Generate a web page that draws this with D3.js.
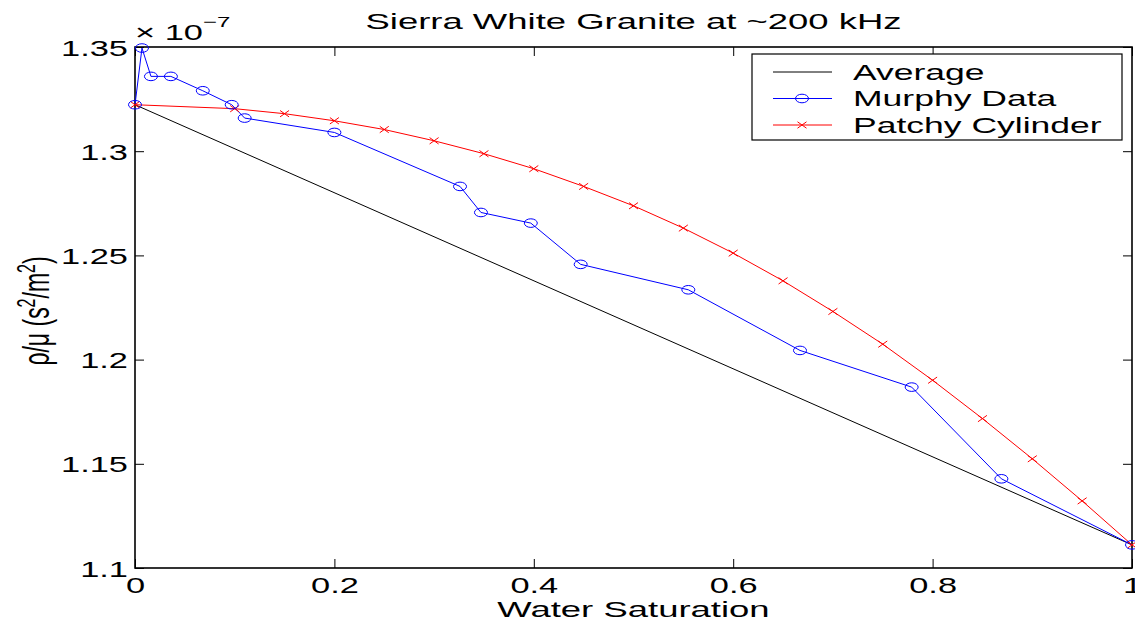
<!DOCTYPE html>
<html>
<head>
<meta charset="utf-8">
<script src="https://cdn.jsdelivr.net/npm/d3@7"></script>
<style>
  body { margin: 0; background: #fff; }
  text { font-family: "Liberation Sans", Arial, Helvetica, sans-serif; fill: #000; }
</style>
</head>
<body>
<script>
// data (y values in units of 1e-7)
var avgX = [0, 1];
var avgY = [1.3223, 1.1111];

var murphyX = [0, 0.007, 0.016, 0.036, 0.068, 0.097, 0.110, 0.200, 0.326, 0.347,
               0.397, 0.447, 0.555, 0.667, 0.779, 0.869, 1.0];
var murphyY = [1.3223, 1.3495, 1.3359, 1.3359, 1.3290, 1.3223, 1.3159, 1.3090, 1.2831, 1.2706,
               1.2655, 1.2457, 1.2335, 1.2044, 1.1868, 1.1428, 1.1111];

var patchyX = [0, 0.10, 0.15, 0.20, 0.25, 0.30, 0.35, 0.40, 0.45, 0.50,
               0.55, 0.60, 0.65, 0.70, 0.75, 0.80, 0.85, 0.90, 0.95, 1.0];
var patchyY = [1.3223, 1.3204, 1.3180, 1.3146, 1.3104, 1.3050, 1.2988, 1.2916, 1.2831, 1.2738,
               1.2631, 1.2511, 1.2378, 1.2231, 1.2074, 1.1901, 1.1717, 1.1524, 1.1322, 1.1111];

var xTicks = [0, 0.2, 0.4, 0.6, 0.8, 1];
var yTicks = [1.1, 1.15, 1.2, 1.25, 1.3, 1.35];
var legendLabels = ["Average", "Murphy Data", "Patchy Cylinder"];

// layout
var W = 1135, H = 624;
var margin = { top: 47, right: 3, bottom: 56, left: 135 };
var stretch = 1.6; // het origineel is horizontaal uitgerekt
var fs = 21.5;

var x = d3.scaleLinear().domain([0, 1]).range([margin.left, W - margin.right]);
var y = d3.scaleLinear().domain([1.1, 1.35]).range([H - margin.bottom, margin.top]);

var svg = d3.select("body").append("svg")
    .attr("width", W)
    .attr("height", H);

// uitgerekte tekst
function stext(g, tx, ty, str, anchor, size) {
    return g.append("text")
        .attr("transform", "translate(" + tx + "," + ty + ") scale(" + stretch + ",1)")
        .attr("text-anchor", anchor || "start")
        .style("font-size", (size || fs) + "px")
        .text(str);
}

// assen, ticks naar binnen
var fmt = function (d) { return String(+d.toFixed(2)); };

var gx = svg.append("g")
    .attr("transform", "translate(0," + y.range()[0] + ")")
    .call(d3.axisBottom(x).tickValues(xTicks).tickSizeInner(-9).tickSizeOuter(0).tickFormat(fmt));
gx.selectAll("text")
    .attr("y", null).attr("dy", null)
    .attr("transform", "translate(0,25) scale(" + stretch + ",1)")
    .style("font-size", fs + "px");

var gy = svg.append("g")
    .attr("transform", "translate(" + x.range()[0] + ",0)")
    .call(d3.axisLeft(y).tickValues(yTicks).tickSizeInner(-9).tickSizeOuter(0).tickFormat(fmt));
gy.selectAll("text")
    .attr("x", null).attr("dy", null)
    .attr("transform", "translate(-7,8) scale(" + stretch + ",1)")
    .style("font-size", fs + "px");

svg.append("g")
    .attr("transform", "translate(0," + y.range()[1] + ")")
    .call(d3.axisTop(x).tickValues(xTicks).tickSizeInner(-9).tickSizeOuter(0).tickFormat(""));
svg.append("g")
    .attr("transform", "translate(" + x.range()[1] + ",0)")
    .call(d3.axisRight(y).tickValues(yTicks).tickSizeInner(-9).tickSizeOuter(0).tickFormat(""));

svg.selectAll(".domain").remove();
svg.selectAll(".tick line").attr("stroke", "#000").attr("stroke-width", 1);

svg.append("rect")
    .attr("x", x.range()[0])
    .attr("y", y.range()[1])
    .attr("width", x.range()[1] - x.range()[0])
    .attr("height", y.range()[0] - y.range()[1])
    .attr("fill", "none")
    .attr("stroke", "#000")
    .attr("stroke-width", 1.6);

// lijnen
var line = d3.line()
    .x(function (d) { return x(d[0]); })
    .y(function (d) { return y(d[1]); });

var avg = d3.zip(avgX, avgY);
var murphy = d3.zip(murphyX, murphyY);
var patchy = d3.zip(patchyX, patchyY);

svg.append("path").datum(avg)
    .attr("d", line).attr("fill", "none").attr("stroke", "#000").attr("stroke-width", 1);

svg.append("path").datum(patchy)
    .attr("d", line).attr("fill", "none").attr("stroke", "#ff0000").attr("stroke-width", 1);

svg.append("path").datum(murphy)
    .attr("d", line).attr("fill", "none").attr("stroke", "#0000ff").attr("stroke-width", 1);

// markers
function crossPath(cx, cy) {
    var a = 4.5, b = 3.2;
    return "M" + (cx - a) + "," + (cy - b) + "L" + (cx + a) + "," + (cy + b) +
        "M" + (cx - a) + "," + (cy + b) + "L" + (cx + a) + "," + (cy - b);
}

svg.append("g").selectAll("path")
    .data(patchy).enter().append("path")
    .attr("d", function (d) { return crossPath(x(d[0]), y(d[1])); })
    .attr("stroke", "#ff0000").attr("stroke-width", 1).attr("fill", "none");

svg.append("g").selectAll("ellipse")
    .data(murphy).enter().append("ellipse")
    .attr("cx", function (d) { return x(d[0]); })
    .attr("cy", function (d) { return y(d[1]); })
    .attr("rx", 6.5).attr("ry", 4.3)
    .attr("fill", "none").attr("stroke", "#0000ff").attr("stroke-width", 1);

// titel en labels
var midX = (x.range()[0] + x.range()[1]) / 2;
stext(svg, midX, 29, "Sierra White Granite at ~200 kHz", "middle", 22.8);
stext(svg, midX, 617, "Water Saturation", "middle", 22.8);

var mult = svg.append("text")
    .attr("transform", "translate(" + x.range()[0] + ",40) scale(" + stretch + ",1)")
    .style("font-size", "21.5px");
mult.append("tspan").text("× 10");
mult.append("tspan").attr("dy", -13).style("font-size", "15px").text("−7");

var ylab = svg.append("text")
    .attr("transform", "translate(49,311) scale(" + stretch + ",1) rotate(-90)")
    .attr("text-anchor", "middle")
    .style("font-size", "23px");
ylab.append("tspan").text("ρ/μ (s");
ylab.append("tspan").attr("dy", -9).style("font-size", "16px").text("2");
ylab.append("tspan").attr("dy", 9).text("/m");
ylab.append("tspan").attr("dy", -9).style("font-size", "16px").text("2");
ylab.append("tspan").attr("dy", 9).text(")");

// legenda
var lg = svg.append("g");
lg.append("rect")
    .attr("x", 752).attr("y", 54).attr("width", 370).attr("height", 86)
    .attr("fill", "#fff").attr("stroke", "#000").attr("stroke-width", 1.2);

var legColors = ["#000", "#0000ff", "#ff0000"];
legendLabels.forEach(function (lab, i) {
    var ly = 72 + i * 26.5;
    lg.append("line")
        .attr("x1", 773).attr("x2", 832).attr("y1", ly).attr("y2", ly)
        .attr("stroke", legColors[i]).attr("stroke-width", 1);
    if (i === 1) {
        lg.append("ellipse").attr("cx", 802).attr("cy", ly).attr("rx", 6.5).attr("ry", 4.3)
            .attr("fill", "none").attr("stroke", "#0000ff");
    }
    if (i === 2) {
        lg.append("path").attr("d", crossPath(802, ly)).attr("stroke", "#ff0000").attr("fill", "none");
    }
    stext(lg, 853, ly + 7.5, lab, "start", 22.2);
});
</script>
</body>
</html>
